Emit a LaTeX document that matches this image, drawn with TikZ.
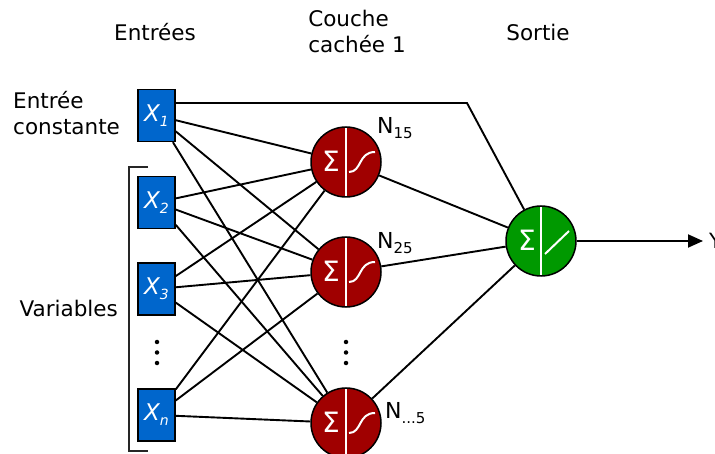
\documentclass[tikz,border=0pt]{standalone}
\usepackage{fontspec}
\setmainfont{DejaVu Sans}
\usetikzlibrary{arrows.meta,calc}
\definecolor{inblue}{RGB}{0,102,204}
\definecolor{hidred}{RGB}{160,0,0}
\definecolor{outgreen}{RGB}{0,153,0}
\tikzset{
  inbox/.style={draw=black, fill=inblue, line width=1.4pt, minimum width=37pt,
    minimum height=52pt, inner sep=0pt, text=white, font=\fontsize{23}{23}\selectfont\itshape},
  neuron/.style={circle, draw=black, line width=1.5pt, minimum size=70pt, inner sep=0pt},
  hidden/.style={neuron, fill=hidred, path picture={
    \draw[white,line width=1.4pt] (path picture bounding box.north) -- (path picture bounding box.south);
    \node[white,font=\fontsize{28}{28}\selectfont] at ([xshift=-15pt,yshift=1pt]path picture bounding box.center) {Σ};
    \draw[white,line width=2pt] ([shift={(3pt,-10pt)}]path picture bounding box.center)
      .. controls ([shift={(16pt,-10pt)}]path picture bounding box.center) and ([shift={(12pt,10pt)}]path picture bounding box.center)
      .. ([shift={(29pt,10pt)}]path picture bounding box.center);
  }},
  outneuron/.style={neuron, fill=outgreen, path picture={
    \draw[white,line width=1.4pt] (path picture bounding box.north) -- (path picture bounding box.south);
    \node[white,font=\fontsize{28}{28}\selectfont] at ([xshift=-14pt,yshift=1pt]path picture bounding box.center) {Σ};
    \draw[white,line width=2pt] ([shift={(4pt,-13pt)}]path picture bounding box.center)
      -- ([shift={(28pt,10pt)}]path picture bounding box.center);
  }},
  link/.style={line width=1.9pt},
  lbl/.style={font=\fontsize{21.5}{26}\selectfont, align=left, inner sep=0pt},
  nlbl/.style={font=\fontsize{22}{22}\selectfont, anchor=west, inner sep=0pt},
  dotmark/.style={circle, fill=black, inner sep=0pt, minimum size=4.5pt}
}
\newcommand{\insub}[1]{\raisebox{-5pt}{\fontsize{14}{14}\selectfont #1}}
\newcommand{\nsub}[1]{\raisebox{-5pt}{\fontsize{15}{15}\selectfont #1}}
\begin{document}
\begin{tikzpicture}[x=1pt,y=-1pt]
\useasboundingbox (0,0) rectangle (715,454);
\clip (0,0) rectangle (715,454);

% headers
\node[lbl] (hin) at (155,32) {Entrées};
\node[lbl] (hhid) at (357,31) {Couche\\cachée 1};
\node[lbl] (hout) at (538,32) {Sortie};

% left labels
\node[lbl, anchor=west] (lconst) at (13,113) {Entrée\\constante};
\node[lbl, anchor=east] (lvar) at (118,308) {Variables};

% bracket
\draw[line width=1.6pt, black!85] (148,167) -- (129,167) -- (129,451) -- (148,451);

% inputs
\node[inbox] (x1) at (156.5,115.5) {X\insub{1}};
\node[inbox] (x2) at (156.5,202.5) {X\insub{2}};
\node[inbox] (x3) at (156.5,289) {X\insub{3}};
\node[inbox] (xn) at (156.5,415) {X\insub{n}};

% hidden
\node[hidden] (n1) at (346,162) {};
\node[hidden] (n2) at (346,272) {};
\node[hidden] (n3) at (346,423) {};

% output
\node[outneuron] (out) at (541,241) {};

% neuron labels
\node[nlbl] (ln1) at (377,128) {N\nsub{15}};
\node[nlbl] (ln2) at (377,243) {N\nsub{25}};
\node[nlbl] (ln3) at (385,413) {N\nsub{...5}};

% dots
\foreach \yy [count=\i] in {342,352.5,363} {
  \node[dotmark] (dl\i) at (157,\yy) {};
  \node[dotmark] (dr\i) at (346,\yy) {};
}

% connections input -> hidden
\foreach \a in {x1,x2,x3,xn} {
  \foreach \b in {n1,n2,n3} {
    \draw[link] (\a) -- (\b);
  }
}
% hidden -> output
\foreach \b in {n1,n2,n3} {
  \draw[link] (\b) -- (out);
}
% constant input -> output
\coordinate (bend) at (467,103);
\draw[link] ([yshift=12.5pt]x1.east) -- (bend) -- (out);

% output arrow
\coordinate (yend) at (703,241);
\draw[link,-{Triangle[length=15pt,width=13pt]}] (out) -- (yend);
\node[font=\fontsize{21}{21}\selectfont, anchor=west, inner sep=0pt] (ylab) at (709,241) {Y};
\end{tikzpicture}
\end{document}
